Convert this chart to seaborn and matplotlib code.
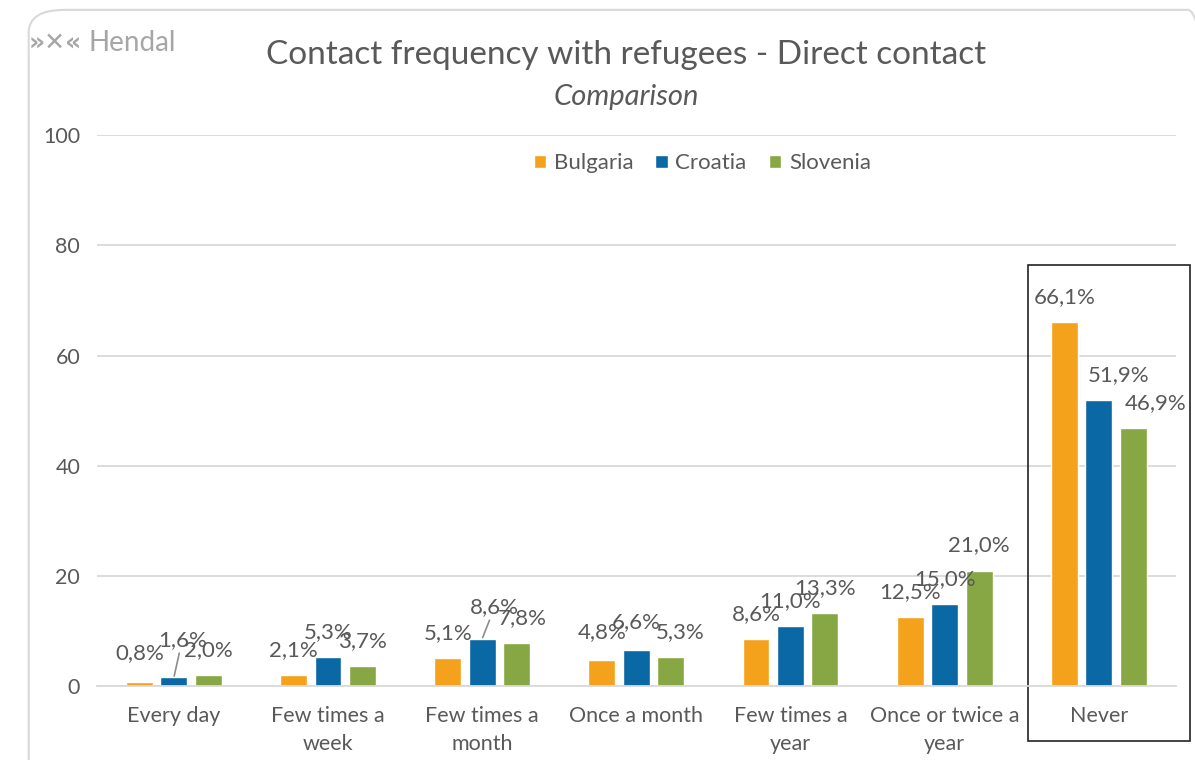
import pandas as pd
import numpy as np
import matplotlib.pyplot as plt
import seaborn as sns
from matplotlib.patches import Rectangle, FancyBboxPatch

# Chart data (values in %)
categories = ['Every day', 'Few times a\nweek', 'Few times a\nmonth', 'Once a month',
              'Few times a\nyear', 'Once or twice a\nyear', 'Never']
countries = ['Bulgaria', 'Croatia', 'Slovenia']
bulgaria = [0.8, 2.1, 5.1, 4.8, 8.6, 12.5, 66.1]
croatia = [1.6, 5.3, 8.6, 6.6, 11.0, 15.0, 51.9]
slovenia = [2.0, 3.7, 7.8, 5.3, 13.3, 21.0, 46.9]
y_ticks = [0, 20, 40, 60, 80, 100]

colors = {'Bulgaria': '#F4A21C', 'Croatia': '#0A68A5', 'Slovenia': '#86A743'}
text_gray = '#595959'

# hand-moved labels (like in the Excel original): (series, category) -> (dx, dy) in points
label_moves = {(1, 0): (6, 27), (1, 2): (9, 23), (0, 0): (0, 21),
               (2, 2): (4, 18), (2, 3): (7, 18), (0, 3): (0, 20), (1, 3): (0, 20),
               (1, 6): (14, 18), (2, 6): (16, 18)}
leader_lines = [(1, 0), (1, 2)]

# Long-form table for seaborn
df = pd.DataFrame({
    'Category': categories * 3,
    'Country': np.repeat(countries, len(categories)),
    'Value': bulgaria + croatia + slovenia,
})

sns.set_theme(style='white')
plt.rcParams['font.family'] = ['Lato', 'DejaVu Sans']

fig = plt.figure(figsize=(11.95, 7.6), dpi=100)
ax = fig.add_axes([0.081, 0.097, 0.903, 0.725])

sns.barplot(data=df, x='Category', y='Value', hue='Country', order=categories,
            hue_order=countries, palette=colors, width=0.67, gap=0.22,
            saturation=1, ax=ax, legend=True)

# value labels with comma decimals
for si, (cont, vals) in enumerate(zip(ax.containers, [bulgaria, croatia, slovenia])):
    for ci, (bar, v) in enumerate(zip(cont, vals)):
        dx, dy = label_moves.get((si, ci), (0, 18))
        arrow = None
        if (si, ci) in leader_lines:
            arrow = dict(arrowstyle='-', color='#8C8C8C', lw=1.2, shrinkA=0, shrinkB=1)
        ax.annotate(f'{v:.1f}%'.replace('.', ','),
                    xy=(bar.get_x() + bar.get_width() / 2, bar.get_height()),
                    xytext=(dx, dy), textcoords='offset points', ha='center', va='center',
                    fontsize=16, color=text_gray, arrowprops=arrow)

ax.set_ylim(0, 100)
ax.set_xlim(-0.5, 6.5)
ax.set_yticks(y_ticks)
ax.yaxis.grid(True, color='#D9D9D9', linewidth=1.3)
ax.set_axisbelow(True)
for s in ['top', 'right', 'left']:
    ax.spines[s].set_visible(False)
ax.spines['bottom'].set_color('#D9D9D9')
ax.spines['bottom'].set_linewidth(1.3)
ax.tick_params(axis='both', length=0, labelsize=15.5, colors=text_gray)
ax.tick_params(axis='x', pad=14)
ax.tick_params(axis='y', pad=12)
for lbl in ax.get_xticklabels():
    lbl.set_linespacing(1.5)
ax.set_xlabel('')
ax.set_ylabel('')

ax.legend(loc='center', bbox_to_anchor=(0.561, 0.949), ncol=3, frameon=False,
          fontsize=16, labelcolor=text_gray, handlelength=0.55, handleheight=0.55,
          handletextpad=0.35, columnspacing=1.0)

# highlight box around "Never"
ax.add_patch(Rectangle((5.54, -10.0), 1.05, 86.4, fill=False, edgecolor='#222222',
                       linewidth=1.2, clip_on=False))

# titles
fig.text(0.524, 0.927, 'Contact frequency with refugees - Direct contact',
         ha='center', va='center', fontsize=24, color=text_gray)
fig.text(0.524, 0.872, 'Comparison', ha='center', va='center', fontsize=21,
         style='italic', color=text_gray)

# logo
fig.text(0.024, 0.944, '\u00bb\u2715\u00ab', ha='left', va='center', fontsize=18,
         color='#A6A6A6', fontweight='bold', family=['DejaVu Sans'])
fig.text(0.074, 0.944, 'Hendal', ha='left', va='center', fontsize=20, color='#A6A6A6')

# outer rounded frame
fig.patches.append(FancyBboxPatch((0.024, -0.05), 1.0, 1.037,
                                  boxstyle='round,pad=0,rounding_size=0.03',
                                  transform=fig.transFigure, fill=False,
                                  edgecolor='#D9D9D9', linewidth=1.5))

fig.savefig('out.png', dpi=100)
